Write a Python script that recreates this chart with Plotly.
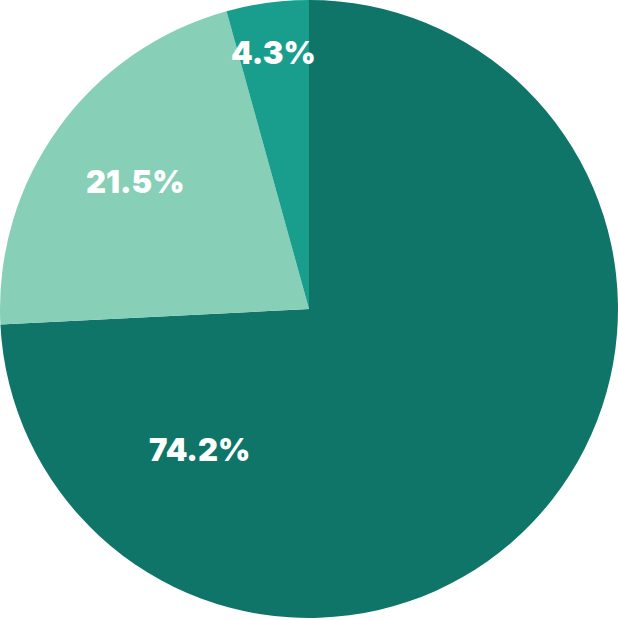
import plotly.graph_objects as go

# slice data (clockwise from 12 o'clock)
labels = ["A", "B", "C"]
values = [74.2, 21.5, 4.3]
colors = ["#0f7569", "#88cfb8", "#199e8e"]

# where each percentage label sits (paper fractions)
label_x = [0.323, 0.219, 0.443]
label_y = [0.272, 0.707, 0.915]

fig = go.Figure(go.Pie(
    labels=labels,
    values=values,
    sort=False,
    direction="clockwise",
    rotation=0,
    marker=dict(colors=colors, line=dict(width=0)),
    textinfo="none",
    hoverinfo="label+percent",
    showlegend=False,
))

total = sum(values)
for v, x, y in zip(values, label_x, label_y):
    fig.add_annotation(
        x=x, y=y, xref="paper", yref="paper",
        text=f"{v / total * 100:.1f}%",
        showarrow=False,
        xanchor="center", yanchor="middle",
        font=dict(family="Inter", size=31, color="white", weight=900),
    )

fig.update_layout(
    width=618,
    height=620,
    margin=dict(t=0, b=2, l=0, r=0),
    paper_bgcolor="white",
)

# drop the default page margin so the chart sits in the corner
fig.write_html(
    "out.html",
    config={"displayModeBar": False},
    post_script="document.body.style.margin='0';",
)
